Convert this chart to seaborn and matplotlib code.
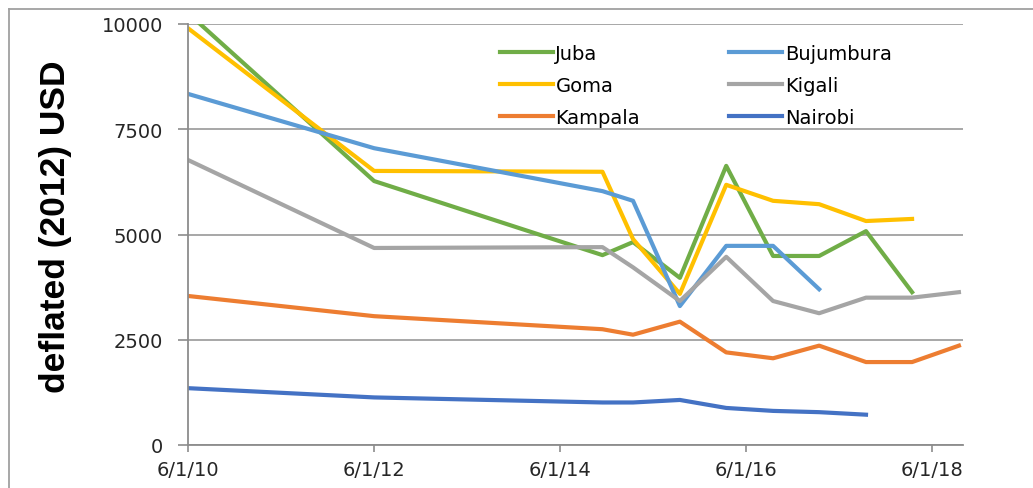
import numpy as np
import pandas as pd
import matplotlib
matplotlib.use("Agg")
import matplotlib.pyplot as plt
from matplotlib.lines import Line2D
import seaborn as sns

# observation dates (roughly 6-monthly from late 2014)
dates = ["2010-06-01", "2012-06-01", "2014-11-15", "2015-03-15", "2015-09-15",
         "2016-03-15", "2016-09-15", "2017-03-15", "2017-09-15", "2018-03-15",
         "2018-09-15"]

juba = [10260, 6270, 4510, 4820, 3970, 6630, 4490, 4490, 5080, 3630, np.nan]
goma = [9900, 6510, 6490, 4890, 3590, 6180, 5800, 5720, 5320, 5370, np.nan]
kampala = [3540, 3060, 2750, 2620, 2930, 2200, 2060, 2360, 1970, 1970, 2360]
bujumbura = [8340, 7050, 6030, 5800, 3300, 4730, 4730, 3700, np.nan, np.nan, np.nan]
kigali = [6770, 4680, 4700, 4220, 3420, 4470, 3420, 3130, 3500, 3500, 3630]
nairobi = [1350, 1130, 1010, 1010, 1070, 880, 810, 780, 720, np.nan, np.nan]

cities = ["Juba", "Goma", "Kampala", "Bujumbura", "Kigali", "Nairobi"]
colors = ["#70AD47", "#FFC000", "#ED7D31", "#5B9BD5", "#A5A5A5", "#4472C4"]

x_ticks = ["2010-06-01", "2012-06-01", "2014-06-01", "2016-06-01", "2018-06-01"]
x_labels = ["6/1/10", "6/1/12", "6/1/14", "6/1/16", "6/1/18"]
y_ticks = [0, 2500, 5000, 7500, 10000]

series = dict(zip(cities, [juba, goma, kampala, bujumbura, kigali, nairobi]))
df = pd.DataFrame({"date": pd.to_datetime(dates), **series})
df = df.melt(id_vars="date", var_name="city", value_name="usd").dropna()

W, H = 1033, 489
fig = plt.figure(figsize=(W / 100, H / 100), dpi=100)
ax = fig.add_axes([188 / W, 1 - 446 / H, (963 - 188) / W, (446 - 25) / H])

sns.lineplot(data=df, x="date", y="usd", hue="city", hue_order=cities,
             palette=colors, linewidth=3, ax=ax)

grid_col = "#A0A0A0"
ax.set_ylim(0, 10000)
ax.set_xlim(pd.Timestamp("2010-06-01"), pd.Timestamp("2018-10-01"))
ax.set_yticks(y_ticks)
ax.set_yticklabels([str(v) for v in y_ticks])
ax.set_xticks(pd.to_datetime(x_ticks))
ax.set_xticklabels(x_labels)
ax.yaxis.grid(True, color=grid_col, linewidth=1.3)
ax.set_axisbelow(True)
for side in ["top", "right"]:
    ax.spines[side].set_visible(False)
for side in ["left", "bottom"]:
    ax.spines[side].set_color("#8C8C8C")
    ax.spines[side].set_linewidth(1.3)
ax.tick_params(axis="y", length=7, width=1.2, color="#8C8C8C", pad=11,
               labelsize=14, labelcolor="#262626")
ax.tick_params(axis="x", length=5, width=1.2, color="#8C8C8C", pad=6,
               labelsize=14, labelcolor="#262626")

ax.set_xlabel("")
ax.set_ylabel("deflated (2012) USD", fontsize=25.5, fontweight="bold",
              family="Liberation Sans")
ax.yaxis.set_label_coords(-0.15, 0.52)

ax.legend(ncol=2, loc="upper left", bbox_to_anchor=(500 / W, 1 - 45 / H),
          bbox_transform=fig.transFigure, frameon=False, fontsize=14,
          handlelength=2.7, handletextpad=0.15, columnspacing=4.6,
          labelspacing=0.66, borderpad=0, borderaxespad=0)

# outer chart frame: only its top and left edges are inside the picture
top = 1 - 10 / H
fig.add_artist(Line2D([9 / W, 1], [top, top], transform=fig.transFigure,
                      color="#A0A0A0", linewidth=1.3))
fig.add_artist(Line2D([9 / W, 9 / W], [0, top], transform=fig.transFigure,
                      color="#A0A0A0", linewidth=1.3))

fig.savefig("out.png", dpi=100)
